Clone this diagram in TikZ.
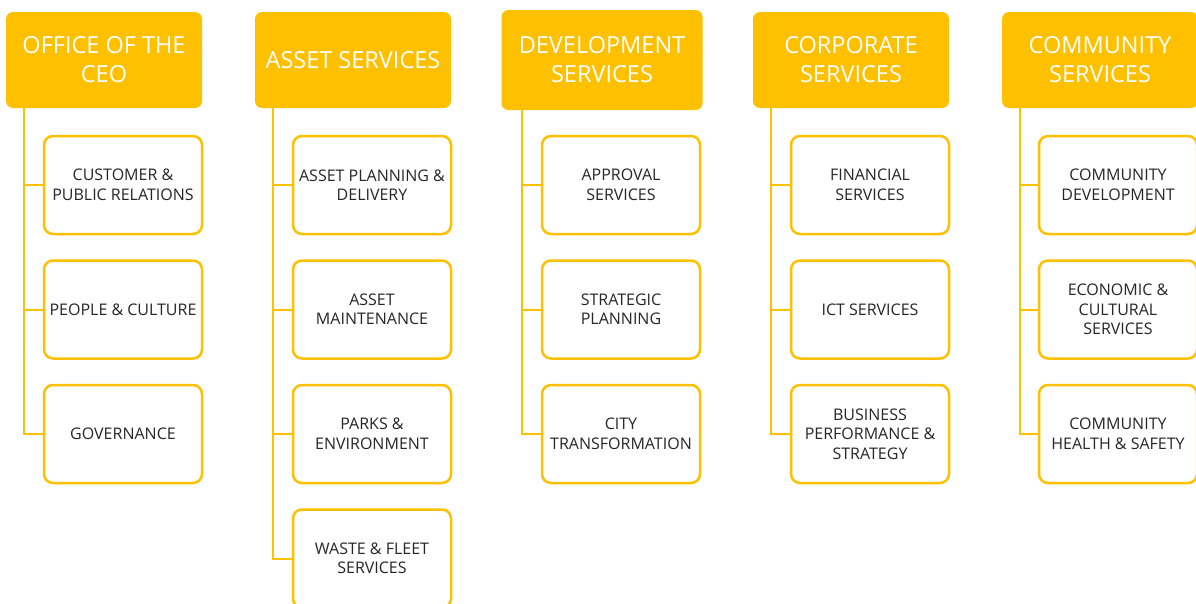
\documentclass[tikz,border=0pt]{standalone}
\usepackage{fontspec}
\setmainfont{Open Sans}
\usepackage{tikz}

\definecolor{amber}{HTML}{FFC000}
\definecolor{inkgray}{HTML}{262626}

\tikzset{
  every head/.style={fill=amber, rounded corners=7pt, minimum width=196pt,
    minimum height=96pt, inner sep=0pt, align=center, text=white,
    font=\fontsize{23.5}{29}\selectfont},
  head 3/.style={minimum width=201pt, minimum height=100pt},
  every unit/.style={draw=amber, line width=2.5pt, rounded corners=9pt,
    fill=white, minimum width=158pt, minimum height=98pt, inner sep=0pt,
    align=center, text=inkgray, font=\fontsize{16}{19.5}\selectfont},
  link/.style={draw=amber, line width=2pt}
}

\begin{document}
\begin{tikzpicture}[x=1pt, y=-1pt]

\useasboundingbox (0,0) rectangle (1196,603);

% Directorates

\foreach \l [count=\i] in {{OFFICE OF THE\\CEO}, {ASSET SERVICES},
    {DEVELOPMENT\\SERVICES}, {CORPORATE\\SERVICES}, {COMMUNITY\\SERVICES}}
  \node [every head/.try, head \i/.try] (head-\i) at (104+249*\i-249,60) {\l};

\foreach \i in {1,...,5}
  \coordinate (trunk-\i) at ([xshift=-80pt]head-\i.south);

% Units

\foreach \l [count=\j] in {{CUSTOMER \&\\PUBLIC RELATIONS}, {PEOPLE \& CULTURE},
    {GOVERNANCE}}
  \node [every unit/.try] (ceo-\j) at (123,60.5+124.5*\j) {\l};

\foreach \l [count=\j] in {{ASSET PLANNING \&\\DELIVERY}, {ASSET\\MAINTENANCE},
    {PARKS \&\\ENVIRONMENT}, {WASTE \& FLEET\\SERVICES}}
  \node [every unit/.try] (asset-\j) at (372,60.5+124.5*\j) {\l};

\foreach \l [count=\j] in {{APPROVAL\\SERVICES}, {STRATEGIC\\PLANNING},
    {CITY\\TRANSFORMATION}}
  \node [every unit/.try] (dev-\j) at (621,60.5+124.5*\j) {\l};

\foreach \l [count=\j] in {{FINANCIAL\\SERVICES}, {ICT SERVICES},
    {BUSINESS\\PERFORMANCE \&\\STRATEGY}}
  \node [every unit/.try] (corp-\j) at (870,60.5+124.5*\j) {\l};

\foreach \l [count=\j] in {{COMMUNITY\\DEVELOPMENT}, {ECONOMIC \&\\CULTURAL\\SERVICES},
    {COMMUNITY\\HEALTH \& SAFETY}}
  \node [every unit/.try] (comm-\j) at (1118,60.5+124.5*\j) {\l};

% Connectors

\foreach \g/\n [count=\i] in {ceo/3, asset/4, dev/3, corp/3, comm/3} {
  \draw [link] (trunk-\i) |- (\g-\n.west);
  \foreach \j in {1,...,\n}
    \draw [link] (trunk-\i |- \g-\j.west) -- (\g-\j.west);
}

\end{tikzpicture}
\end{document}
